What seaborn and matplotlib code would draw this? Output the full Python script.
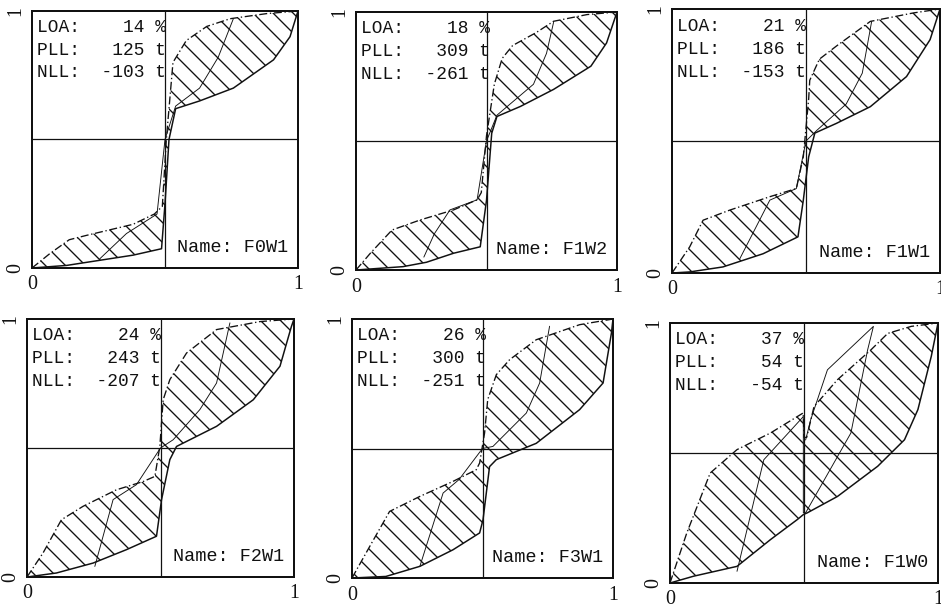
import numpy as np
import matplotlib
matplotlib.use('Agg')
import matplotlib.pyplot as plt
import seaborn as sns

# ---- data (normalised 0..1 axes) ----
names = ['F0W1', 'F1W2', 'F1W1', 'F2W1', 'F3W1', 'F1W0']
loa = [14, 18, 21, 24, 26, 37]
pll = [125, 309, 186, 243, 300, 54]
nll = [-103, -261, -153, -207, -251, -54]

# F0W1
f0w1_up_x = [0, 0.067, 0.14, 0.205, 0.38, 0.46, 0.49, 0.505, 0.53, 0.58, 0.657, 0.745, 0.883, 1]
f0w1_up_y = [0, 0.056, 0.11, 0.127, 0.17, 0.21, 0.24, 0.5, 0.80, 0.885, 0.94, 0.97, 0.99, 1]
f0w1_lo_x = [0, 0.13, 0.255, 0.38, 0.487, 0.50, 0.515, 0.54, 0.63, 0.757, 0.908, 0.97, 1]
f0w1_lo_y = [0, 0.01, 0.03, 0.05, 0.075, 0.25, 0.5, 0.62, 0.65, 0.70, 0.81, 0.9, 1]
f0w1_in_x = [0.255, 0.355, 0.47, 0.50, 0.54, 0.63, 0.70, 0.757]
f0w1_in_y = [0.036, 0.134, 0.21, 0.5, 0.63, 0.70, 0.82, 0.97]

# F1W2
f1w2_up_x = [0, 0.055, 0.138, 0.246, 0.374, 0.464, 0.48, 0.50, 0.53, 0.56, 0.60, 0.69, 0.757, 0.885, 1]
f1w2_up_y = [0, 0.065, 0.155, 0.194, 0.233, 0.272, 0.30, 0.52, 0.72, 0.82, 0.87, 0.92, 0.964, 0.99, 1]
f1w2_lo_x = [0, 0.18, 0.27, 0.374, 0.476, 0.50, 0.52, 0.54, 0.63, 0.757, 0.90, 0.96, 1]
f1w2_lo_y = [0, 0.013, 0.03, 0.065, 0.09, 0.27, 0.53, 0.595, 0.634, 0.70, 0.79, 0.88, 1]
f1w2_in_x = [0.26, 0.30, 0.36, 0.464, 0.50, 0.54, 0.68, 0.73, 0.757]
f1w2_in_y = [0.05, 0.14, 0.233, 0.272, 0.5, 0.6, 0.72, 0.84, 0.96]

# F1W1
f1w1_up_x = [0, 0.066, 0.116, 0.215, 0.365, 0.464, 0.49, 0.51, 0.514, 0.55, 0.614, 0.74, 0.90, 1]
f1w1_up_y = [0, 0.099, 0.20, 0.238, 0.289, 0.32, 0.44, 0.66, 0.73, 0.81, 0.86, 0.953, 0.985, 1]
f1w1_lo_x = [0, 0.066, 0.19, 0.34, 0.47, 0.49, 0.51, 0.533, 0.614, 0.74, 0.875, 0.963, 1]
f1w1_lo_y = [0, 0.004, 0.023, 0.073, 0.137, 0.276, 0.44, 0.53, 0.567, 0.63, 0.744, 0.884, 1]
f1w1_in_x = [0.253, 0.365, 0.464, 0.50, 0.54, 0.65, 0.71, 0.745]
f1w1_in_y = [0.054, 0.276, 0.32, 0.5, 0.54, 0.64, 0.757, 0.953]

# F2W1
f2w1_up_x = [0, 0.06, 0.129, 0.21, 0.335, 0.435, 0.479, 0.4975, 0.51, 0.535, 0.5975, 0.71, 0.8725, 1]
f2w1_up_y = [0, 0.093, 0.222, 0.274, 0.338, 0.37, 0.39, 0.506, 0.687, 0.765, 0.868, 0.959, 0.99, 1]
f2w1_lo_x = [0, 0.11, 0.2475, 0.3725, 0.485, 0.504, 0.535, 0.56, 0.71, 0.8475, 0.9475, 0.99, 1]
f2w1_lo_y = [0, 0.0155, 0.054, 0.106, 0.158, 0.30, 0.455, 0.506, 0.584, 0.687, 0.817, 0.97, 1]
f2w1_in_x = [0.254, 0.3225, 0.41, 0.50, 0.5475, 0.6475, 0.71, 0.76]
f2w1_in_y = [0.041, 0.30, 0.358, 0.5, 0.532, 0.649, 0.752, 0.985]

# F3W1
f3w1_up_x = [0, 0.068, 0.144, 0.26, 0.387, 0.476, 0.489, 0.508, 0.52, 0.553, 0.604, 0.706, 0.872, 1]
f3w1_up_y = [0, 0.122, 0.257, 0.315, 0.373, 0.418, 0.444, 0.56, 0.689, 0.785, 0.843, 0.92, 0.978, 1]
f3w1_lo_x = [0, 0.13, 0.26, 0.387, 0.489, 0.502, 0.527, 0.553, 0.706, 0.872, 0.962, 0.994, 1]
f3w1_lo_y = [0, 0.006, 0.045, 0.109, 0.174, 0.225, 0.43, 0.457, 0.52, 0.65, 0.753, 0.946, 1]
f3w1_in_x = [0.26, 0.349, 0.41, 0.50, 0.54, 0.668, 0.719, 0.757]
f3w1_in_y = [0.045, 0.328, 0.38, 0.5, 0.508, 0.637, 0.753, 0.972]

# F1W0
f1w0_up_x = [0, 0.0625, 0.15, 0.25, 0.375, 0.497, 0.50, 0.51, 0.5375, 0.625, 0.75, 0.8125, 0.9, 1]
f1w0_up_y = [0, 0.192, 0.423, 0.513, 0.577, 0.654, 0.56, 0.56, 0.679, 0.782, 0.897, 0.96, 0.987, 1]
f1w0_lo_x = [0, 0.0875, 0.25, 0.375, 0.475, 0.4975, 0.5125, 0.625, 0.775, 0.875, 0.925, 0.975, 1]
f1w0_lo_y = [0, 0.026, 0.064, 0.167, 0.244, 0.263, 0.27, 0.333, 0.449, 0.551, 0.667, 0.872, 1]
f1w0_in_x = [0.25, 0.35, 0.4975, 0.4975, 0.506, 0.675, 0.7375, 0.759, 0.5875, 0.525, 0.506]
f1w0_in_y = [0.045, 0.474, 0.64, 0.27, 0.27, 0.577, 0.897, 0.987, 0.82, 0.628, 0.55]

up_x = [f0w1_up_x, f1w2_up_x, f1w1_up_x, f2w1_up_x, f3w1_up_x, f1w0_up_x]
up_y = [f0w1_up_y, f1w2_up_y, f1w1_up_y, f2w1_up_y, f3w1_up_y, f1w0_up_y]
lo_x = [f0w1_lo_x, f1w2_lo_x, f1w1_lo_x, f2w1_lo_x, f3w1_lo_x, f1w0_lo_x]
lo_y = [f0w1_lo_y, f1w2_lo_y, f1w1_lo_y, f2w1_lo_y, f3w1_lo_y, f1w0_lo_y]
in_x = [f0w1_in_x, f1w2_in_x, f1w1_in_x, f2w1_in_x, f3w1_in_x, f1w0_in_x]
in_y = [f0w1_in_y, f1w2_in_y, f1w1_in_y, f2w1_in_y, f3w1_in_y, f1w0_in_y]

# panel boxes in pixels: left, top, right, bottom
boxes = [(32, 11, 298, 268), (356, 12, 617, 270), (672, 9, 940, 273),
         (27, 319, 294, 577), (352, 319, 613, 578), (670, 323, 938, 583)]

sns.set_style('white')
plt.rcParams['hatch.linewidth'] = 0.8
plt.rcParams['font.family'] = ['Liberation Mono', 'DejaVu Sans']

W, H, DPI = 941, 605, 120
fig = plt.figure(figsize=(W / DPI, H / DPI), dpi=DPI)
ink = '#111111'

for i, name in enumerate(names):
    l, t, r, b = boxes[i]
    ax = fig.add_axes([l / W, (H - b) / H, (r - l) / W, (b - t) / H])

    px = np.r_[up_x[i], lo_x[i][::-1]]
    py = np.r_[up_y[i], lo_y[i][::-1]]
    ax.fill(px, py, facecolor='none', edgecolor=ink, linewidth=0, hatch='\\\\')

    sns.lineplot(x=up_x[i], y=up_y[i], sort=False, estimator=None, ax=ax,
                 color=ink, lw=0.8, dashes=False, linestyle=(0, (6, 2, 1, 2)))
    sns.lineplot(x=lo_x[i], y=lo_y[i], sort=False, estimator=None, ax=ax,
                 color=ink, lw=0.9)
    sns.lineplot(x=in_x[i], y=in_y[i], sort=False, estimator=None, ax=ax,
                 color=ink, lw=0.55)

    ax.axvline(0.5, color=ink, lw=0.75)
    ax.axhline(0.5, color=ink, lw=0.75)
    ax.set_xlim(0, 1)
    ax.set_ylim(0, 1)

    for s in ax.spines.values():
        s.set_color(ink)
        s.set_linewidth(1.2)

    ax.set_xticks([0, 1])
    ax.set_yticks([0, 1])
    ax.set_xticklabels(['0', '1'], family='Liberation Serif', fontsize=12)
    ax.set_yticklabels(['0', '1'], family='Liberation Serif', fontsize=12,
                       rotation=90, va='center')
    ax.tick_params(axis='x', length=0, pad=4.5, colors=ink)
    ax.tick_params(axis='y', length=0, pad=4, colors=ink)

    lines = [f'LOA:{loa[i]:>6} %', f'PLL:{pll[i]:>6} t', f'NLL:{nll[i]:>6} t']
    for k, txt in enumerate(lines):
        ax.text(0.02, 0.918 - 0.088 * k, txt, transform=ax.transAxes,
                fontsize=10.7, va='baseline', ha='left', color=ink)
    ax.text(0.962, 0.062, f'Name: {name}', transform=ax.transAxes,
            fontsize=11.1, va='baseline', ha='right', color=ink)

fig.savefig('out.png', dpi=DPI)
